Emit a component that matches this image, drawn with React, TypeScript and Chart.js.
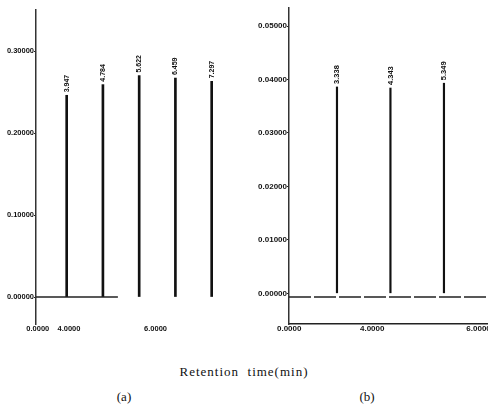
import React, { useEffect, useRef } from "react";
import { Chart, registerables } from "chart.js";

Chart.register(...registerables);

// ---- Chromatogram (a) ----
const peakTimesA = [3.947, 4.784, 5.622, 6.459, 7.297];
const peakHeightsA = [0.246, 0.259, 0.27, 0.267, 0.263];
const peakLabelsA = ["3.947", "4.784", "5.622", "6.459", "7.297"];
const baselineTimesA = [3.238, 5.13];
const baselineValuesA = [0, 0];
const yTicksA = [0, 0.1, 0.2, 0.3];
const xTickValuesA = [3.28, 4.0, 6.0];
const xTickLabelsA = ["0.0000", "4.0000", "6.0000"];

// ---- Chromatogram (b) ----
const peakTimesB = [3.338, 4.343, 5.349];
const peakHeightsB = [0.0386, 0.0384, 0.0393];
const peakLabelsB = ["3.338", "4.343", "5.349"];
const baselineTimesB = [2.436, 6.177];
const baselineValuesB = [-0.0007, -0.0007];
const yTicksB = [0, 0.01, 0.02, 0.03, 0.04, 0.05];
const xTickValuesB = [2.44, 4.0, 6.0];
const xTickLabelsB = ["0.0000", "4.0000", "6.0000"];

const xAxisTitle = "Retention  time(min)";
const panelLabels = ["(a)", "(b)"];

const peakLabelPlugin = {
  id: "peakLabels",
  afterDatasetsDraw(chart: any, _args: any, opts: any) {
    const ctx = chart.ctx;
    const meta = chart.getDatasetMeta(0);
    ctx.save();
    ctx.font = opts.font;
    ctx.fillStyle = "#111";
    meta.data.forEach((el: any, i: number) => {
      ctx.save();
      ctx.translate(el.x, el.y - opts.gap);
      ctx.rotate(-Math.PI / 2);
      ctx.textAlign = "left";
      ctx.textBaseline = "middle";
      ctx.fillText(opts.labels[i], 0, 0);
      ctx.restore();
    });
    ctx.restore();
  },
};

type Props = {
  width: number;
  height: number;
  peakTimes: number[];
  peakHeights: number[];
  peakLabels: string[];
  baselineTimes: number[];
  baselineValues: number[];
  yTicks: number[];
  xTickValues: number[];
  xTickLabels: string[];
  xMin: number;
  xMax: number;
  yMin: number;
  yMax: number;
  yAxisWidth: number;
  padTop: number;
  padRight: number;
  fontSize: number;
  showXBorder: boolean;
  baselineDash: number[];
  barWidth: number;
};

function Chromatogram(p: Props) {
  const ref = useRef<HTMLCanvasElement | null>(null);
  useEffect(() => {
    if (!ref.current) return;
    const font = { family: "'Liberation Sans', Arial, sans-serif", size: p.fontSize, weight: "bold" as const };
    const chart = new Chart(ref.current, {
      type: "bar",
      data: {
        datasets: [
          {
            type: "bar",
            data: p.peakTimes.map((t, i) => ({ x: t, y: p.peakHeights[i] })),
            backgroundColor: "#111",
            barThickness: p.barWidth,
            borderWidth: 0,
          } as any,
          {
            type: "line",
            data: p.baselineTimes.map((t, i) => ({ x: t, y: p.baselineValues[i] })),
            borderColor: "#222",
            borderWidth: 1.5,
            borderDash: p.baselineDash,
            pointRadius: 0,
            fill: false,
          } as any,
        ],
      },
      options: {
        responsive: false,
        animation: false,
        layout: { padding: { top: p.padTop, right: p.padRight, bottom: 0, left: 0 } },
        plugins: {
          legend: { display: false },
          tooltip: { enabled: false },
          peakLabels: { labels: p.peakLabels, gap: 3, font: `bold ${p.fontSize - 0.5}px 'Liberation Sans', Arial, sans-serif` },
        } as any,
        scales: {
          x: {
            type: "linear",
            offset: false,
            min: p.xMin,
            max: p.xMax,
            grid: { display: false, drawTicks: false, offset: false },
            border: { display: p.showXBorder, color: "#222", width: 1.5 },
            afterBuildTicks: (s: any) => {
              s.ticks = p.xTickValues.map((v) => ({ value: v }));
            },
            afterFit: (s: any) => {
              s.height = 20;
            },
            ticks: {
              autoSkip: false,
              maxRotation: 0,
              minRotation: 0,
              padding: 0,
              color: "#111",
              font,
              callback: (v: any) => {
                const i = p.xTickValues.indexOf(Number(v));
                return i >= 0 ? p.xTickLabels[i] : "";
              },
            },
          },
          y: {
            type: "linear",
            min: p.yMin,
            max: p.yMax,
            grid: { drawOnChartArea: false, drawTicks: true, tickLength: 2, color: "#222" },
            border: { display: true, color: "#333", width: 1.5 },
            afterBuildTicks: (s: any) => {
              s.ticks = p.yTicks.map((v) => ({ value: v }));
            },
            afterFit: (s: any) => {
              s.width = p.yAxisWidth;
            },
            ticks: {
              padding: 0,
              color: "#111",
              font,
              callback: (v: any) => Number(v).toFixed(5),
            },
          },
        },
      },
      plugins: [peakLabelPlugin as any],
    });
    return () => chart.destroy();
  }, []);
  return <canvas ref={ref} width={p.width} height={p.height} style={{ display: "block" }} />;
}

export default function App() {
  return (
    <div
      style={{
        position: "fixed",
        left: 0,
        top: 0,
        width: 488,
        height: 410,
        background: "#fff",
        overflow: "hidden",
      }}
    >
      <div style={{ position: "absolute", left: 0, top: 0 }}>
        <Chromatogram
          width={240}
          height={344}
          peakTimes={peakTimesA}
          peakHeights={peakHeightsA}
          peakLabels={peakLabelsA}
          baselineTimes={baselineTimesA}
          baselineValues={baselineValuesA}
          yTicks={yTicksA}
          xTickValues={xTickValuesA}
          xTickLabels={xTickLabelsA}
          xMin={3.238}
          xMax={7.836}
          yMin={-0.0329}
          yMax={0.35}
          yAxisWidth={36}
          padTop={10}
          padRight={5}
          fontSize={7.5}
          showXBorder={false}
          baselineDash={[]}
          barWidth={2}
        />
      </div>
      <div style={{ position: "absolute", left: 248, top: 0 }}>
        <Chromatogram
          width={260}
          height={344}
          peakTimes={peakTimesB}
          peakHeights={peakHeightsB}
          peakLabels={peakLabelsB}
          baselineTimes={baselineTimesB}
          baselineValues={baselineValuesB}
          yTicks={yTicksB}
          xTickValues={xTickValuesB}
          xTickLabels={xTickLabelsB}
          xMin={2.436}
          xMax={6.177}
          yMin={-0.00574}
          yMax={0.05337}
          yAxisWidth={41}
          padTop={8}
          padRight={20}
          fontSize={8}
          showXBorder={true}
          baselineDash={[22, 3]}
          barWidth={1.5}
        />
      </div>
      <div
        style={{
          position: "absolute",
          left: 0,
          width: 488,
          top: 364,
          textAlign: "center",
          fontFamily: "'Liberation Serif', 'Times New Roman', serif",
          fontSize: 13,
          letterSpacing: 1,
          whiteSpace: "pre",
          color: "#111",
        }}
      >
        {xAxisTitle}
      </div>
      <div
        style={{
          position: "absolute",
          left: 104,
          width: 40,
          top: 389,
          textAlign: "center",
          fontFamily: "'Liberation Serif', 'Times New Roman', serif",
          fontSize: 13,
          color: "#111",
        }}
      >
        {panelLabels[0]}
      </div>
      <div
        style={{
          position: "absolute",
          left: 347,
          width: 40,
          top: 389,
          textAlign: "center",
          fontFamily: "'Liberation Serif', 'Times New Roman', serif",
          fontSize: 13,
          color: "#111",
        }}
      >
        {panelLabels[1]}
      </div>
    </div>
  );
}
